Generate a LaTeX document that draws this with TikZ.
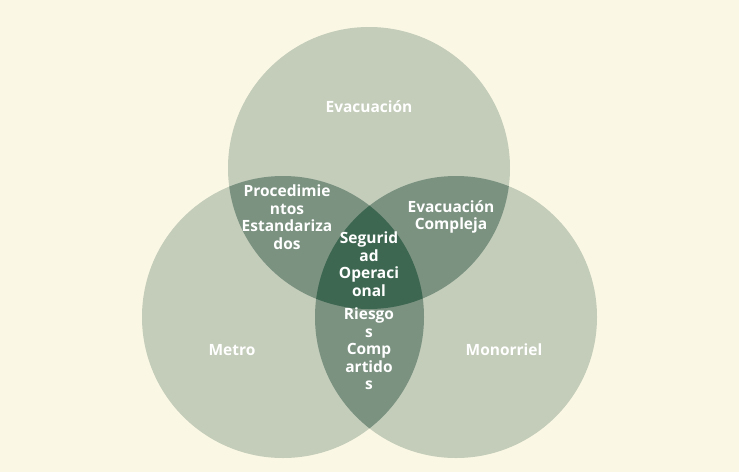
\documentclass[tikz,border=0pt]{standalone}
\usepackage{fontspec}
\setmainfont{Open Sans}
\definecolor{fondo}{HTML}{FAF8E4}
\definecolor{simple}{HTML}{C4CCBA}
\definecolor{doble}{HTML}{7B9281}
\definecolor{triple}{HTML}{3E6752}
\tikzset{
    etiqueta/.style={
        text=white,
        font=\bfseries\fontsize{15.5}{17.5}\selectfont,
        align=center,
        inner sep=0pt
    }
}

\begin{document}
\begin{tikzpicture}[x=1pt, y=-1pt]

    % Fondo
    \fill[fondo] (0,0) rectangle (739,472);
    \useasboundingbox (0,0) rectangle (739,472);

    % Centros de los conjuntos
    \coordinate (cEva) at (369,168);
    \coordinate (cMet) at (283,317);
    \coordinate (cMon) at (456,317);

    % Conjuntos simples
    \foreach \c in {cEva, cMet, cMon}
        \fill[simple] (\c) circle[radius=141];

    % Intersecciones dobles
    \begin{scope}
        \clip (cEva) circle[radius=141];
        \fill[doble] (cMet) circle[radius=141];
        \fill[doble] (cMon) circle[radius=141];
    \end{scope}
    \begin{scope}
        \clip (cMet) circle[radius=141];
        \fill[doble] (cMon) circle[radius=141];
    \end{scope}

    % Interseccion triple
    \begin{scope}
        \clip (cEva) circle[radius=141];
        \clip (cMet) circle[radius=141];
        \fill[triple] (cMon) circle[radius=141];
    \end{scope}

    % Etiquetas
    \node[etiqueta] (eva)  at (369,107) {Evacuación};
    \node[etiqueta] (met)  at (232,350) {Metro};
    \node[etiqueta] (mon)  at (504,350) {Monorriel};
    \node[etiqueta] (proc) at (287,217) {Procedimie\\ntos\\Estandariza\\dos};
    \node[etiqueta] (evac) at (451,217) {Evacuación\\Compleja};
    \node[etiqueta] (seg)  at (369,264) {Segurid\\ad\\Operaci\\onal};
    \node[etiqueta] (rie)  at (369,349) {Riesgo\\s\\Comp\\artido\\s};

\end{tikzpicture}
\end{document}
